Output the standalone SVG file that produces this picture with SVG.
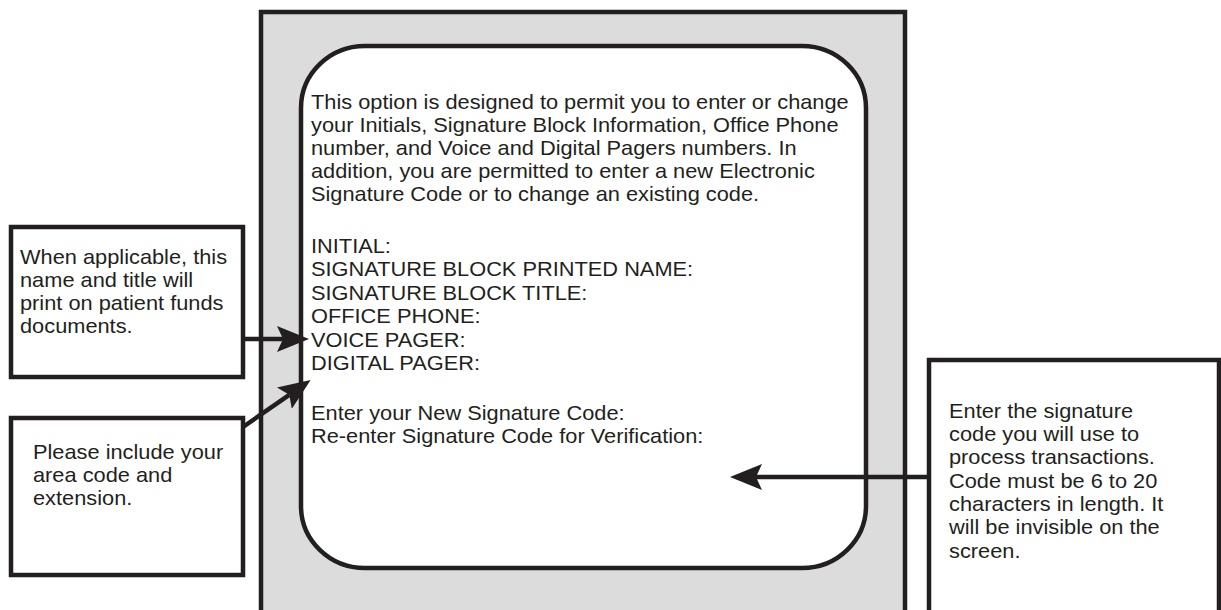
<svg xmlns="http://www.w3.org/2000/svg" width="1221" height="610" viewBox="0 0 1221 610">
<style>
.ln{fill:none;stroke:#231f20;stroke-width:4.5}
.box{fill:#fff;stroke:#231f20;stroke-width:4.5}
.t{font-family:"Liberation Sans",Arial,sans-serif;font-size:20px;fill:#231f20}
.con{fill:none;stroke:#231f20;stroke-width:4.5}
</style>
<defs>
<marker id="ah" markerUnits="userSpaceOnUse" markerWidth="32" markerHeight="26" viewBox="0 0 32 26" refX="6" refY="13" orient="auto">
<path d="M32,13 L0,0 L6,13 L0,26 Z" fill="#231f20"/>
</marker>
</defs>
<rect width="1221" height="610" fill="#fff"/>
<g id="screen-frame">
<rect x="261" y="12" width="644" height="610" fill="#dcdcdc"/>
<path class="ln" d="M261,615 V12 H905 V615"/>
</g>
<g id="screen">
<rect class="box" x="301" y="46" width="565" height="522" rx="64" ry="62"/>
<g transform="translate(311 0) scale(1.09 1)">
<text class="t">
<tspan x="0" y="109">This option is designed to permit you to enter or change</tspan>
<tspan x="0" y="132">your Initials, Signature Block Information, Office Phone</tspan>
<tspan x="0" y="155">number, and Voice and Digital Pagers numbers. In</tspan>
<tspan x="0" y="178">addition, you are permitted to enter a new Electronic</tspan>
<tspan x="0" y="201">Signature Code or to change an existing code.</tspan>
<tspan x="0" y="253">INITIAL:</tspan>
<tspan x="0" y="276.5">SIGNATURE BLOCK PRINTED NAME:</tspan>
<tspan x="0" y="300">SIGNATURE BLOCK TITLE:</tspan>
<tspan x="0" y="323.5">OFFICE PHONE:</tspan>
<tspan x="0" y="347">VOICE PAGER:</tspan>
<tspan x="0" y="370.5">DIGITAL PAGER:</tspan>
<tspan x="0" y="420">Enter your New Signature Code:</tspan>
<tspan x="0" y="443">Re-enter Signature Code for Verification:</tspan>
</text>
</g>
</g>
<g id="note-name">
<rect class="box" x="11" y="227" width="232" height="150"/>
<g transform="translate(20 0) scale(1.09 1)">
<text class="t">
<tspan x="0" y="264">When applicable, this</tspan>
<tspan x="0" y="287">name and title will</tspan>
<tspan x="0" y="310">print on patient funds</tspan>
<tspan x="0" y="333">documents.</tspan>
</text>
</g>
</g>
<g id="note-phone">
<rect class="box" x="11" y="418" width="232" height="157"/>
<g transform="translate(33 0) scale(1.09 1)">
<text class="t">
<tspan x="0" y="459">Please include your</tspan>
<tspan x="0" y="482">area code and</tspan>
<tspan x="0" y="505">extension.</tspan>
</text>
</g>
</g>
<g id="note-code">
<path class="box" d="M929,615 V360 H1219 V615"/>
<g transform="translate(949 0) scale(1.09 1)">
<text class="t">
<tspan x="0" y="418">Enter the signature</tspan>
<tspan x="0" y="441">code you will use to</tspan>
<tspan x="0" y="464.5">process transactions.</tspan>
<tspan x="0" y="488">Code must be 6 to 20</tspan>
<tspan x="0" y="511">characters in length. It</tspan>
<tspan x="0" y="534.5">will be invisible on the</tspan>
<tspan x="0" y="558">screen.</tspan>
</text>
</g>
</g>
<g id="connectors">
<line class="con" x1="243" y1="339" x2="283" y2="339" marker-end="url(#ah)"/>
<line class="con" x1="243" y1="427" x2="289.3" y2="394.8" marker-end="url(#ah)"/>
<line class="con" x1="929" y1="477" x2="756" y2="477" marker-end="url(#ah)"/>
</g>
</svg>
